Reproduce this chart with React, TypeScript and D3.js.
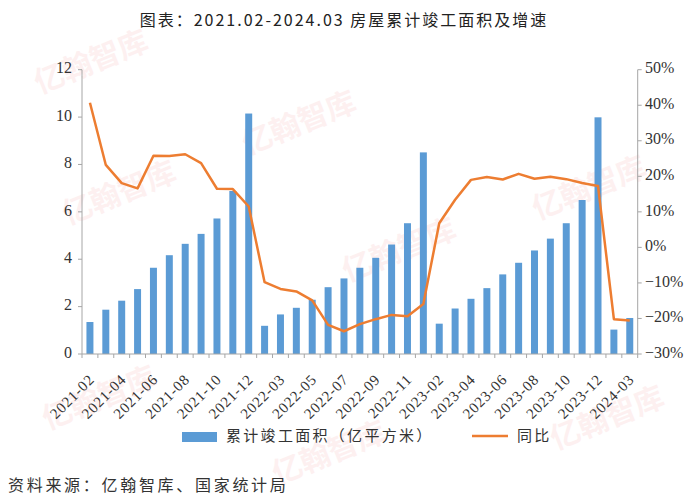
import React from "react";
import * as d3 from "d3";

const categories = [
  "2021-02","2021-03","2021-04","2021-05","2021-06","2021-07","2021-08","2021-09","2021-10","2021-11","2021-12",
  "2022-02","2022-03","2022-04","2022-05","2022-06","2022-07","2022-08","2022-09","2022-10","2022-11","2022-12",
  "2023-02","2023-03","2023-04","2023-05","2023-06","2023-07","2023-08","2023-09","2023-10","2023-11","2023-12",
  "2024-02","2024-03",
];
const area = [
  1.35,1.87,2.25,2.74,3.64,4.17,4.65,5.07,5.72,6.88,10.15,
  1.19,1.67,1.95,2.29,2.82,3.19,3.64,4.06,4.62,5.52,8.51,
  1.28,1.92,2.33,2.78,3.36,3.85,4.37,4.87,5.52,6.5,9.99,
  1.03,1.52,
];
const yoy = [
  40.7,23.2,18.1,16.6,25.8,25.7,26.2,23.7,16.5,16.4,11.5,
  -9.8,-11.7,-12.4,-14.9,-21.8,-23.6,-21.6,-20.2,-19.0,-19.4,-15.9,
  6.8,13.4,19.0,19.8,19.1,20.7,19.3,19.9,19.2,18.1,17.3,
  -20.2,-20.6,
];
const leftTicks = [0, 2, 4, 6, 8, 10, 12];
const rightTicks = [-30, -20, -10, 0, 10, 20, 30, 40, 50];
const title = "图表：2021.02-2024.03 房屋累计竣工面积及增速";
const legendBar = "累计竣工面积（亿平方米）";
const legendLine = "同比";
const source = "资料来源：亿翰智库、国家统计局";
const watermark = "亿翰智库";
const watermarkSpots = [
  [92, 64], [300, 125], [590, 190], [120, 195], [400, 252], [100, 400], [330, 455], [608, 420],
];

export default function App() {
  const W = 700, H = 503;
  const left = 82, right = 637.7, top = 69.7, bottom = 354;
  const x = d3.scaleBand<string>().domain(categories).range([left, right]).paddingInner(0).paddingOuter(0);
  const yL = d3.scaleLinear().domain([0, 12]).range([bottom, top]);
  const yR = d3.scaleLinear().domain([-30, 50]).range([bottom, top]);
  const bw = x.bandwidth() * 0.44;
  const cx = (c: string) => (x(c) as number) + x.bandwidth() / 2;
  const line = d3.line<number>().x((_, i) => cx(categories[i])).y((d) => yR(d));
  const axisColor = "#a6a6a6";
  const serif = "'Liberation Serif', 'Times New Roman', serif";
  const cjk = "'Noto Sans CJK SC', sans-serif";
  const ticksX = categories.map((c) => x(c) as number).concat([right]);

  return (
    <svg width={W} height={H} style={{ position: "absolute", left: 0, top: 0, background: "#fff" }}>
      <rect x={0} y={0} width={W} height={H} fill="#fff" />
      {watermarkSpots.map(([wx, wy], i) => (
        <text key={"wm" + i} x={wx} y={wy} transform={`rotate(-22 ${wx} ${wy})`} textAnchor="middle"
          dominantBaseline="middle" fontFamily={cjk} fontWeight={700} fontSize={30} fill="#e8383d" opacity={0.07}>
          {watermark}
        </text>
      ))}
      <text x={344} y={22} textAnchor="middle" dominantBaseline="middle" fontFamily={cjk} fontSize={16}
        letterSpacing={2} fill="#222">
        {title}
      </text>
      {categories.map((c, i) => (
        <rect key={c} x={cx(c) - bw / 2} y={yL(area[i])} width={bw} height={bottom - yL(area[i])} fill="#5b9bd5" />
      ))}
      <path d={line(yoy) || ""} fill="none" stroke="#ed7d31" strokeWidth={2.5} strokeLinejoin="round" />
      <line x1={left} x2={left} y1={top} y2={bottom} stroke={axisColor} />
      {leftTicks.map((t) => (
        <g key={"l" + t}>
          <line x1={left - 4} x2={left} y1={yL(t)} y2={yL(t)} stroke={axisColor} />
          <text x={72} y={yL(t)} textAnchor="end" dominantBaseline="middle" fontFamily={serif} fontSize={16} fill="#333">
            {t}
          </text>
        </g>
      ))}
      <line x1={right} x2={right} y1={top} y2={bottom} stroke={axisColor} />
      {rightTicks.map((t) => (
        <g key={"r" + t}>
          <line x1={right} x2={right + 4} y1={yR(t)} y2={yR(t)} stroke={axisColor} />
          <text x={645} y={yR(t)} textAnchor="start" dominantBaseline="middle" fontFamily={serif} fontSize={16} fill="#333">
            {t < 0 ? "−" + Math.abs(t) + "%" : t + "%"}
          </text>
        </g>
      ))}
      <line x1={left} x2={right} y1={bottom} y2={bottom} stroke={axisColor} />
      {ticksX.map((tx, i) => (
        <line key={"xt" + i} x1={tx} x2={tx} y1={bottom} y2={bottom + 4} stroke={axisColor} />
      ))}
      {categories.map((c, i) =>
        i % 2 === 0 ? (
          <text key={"xl" + c} x={cx(c) + 3} y={bottom + 24} textAnchor="end" dominantBaseline="middle"
            transform={`rotate(-45 ${cx(c) + 3} ${bottom + 24})`} fontFamily={serif} fontSize={15}
            letterSpacing={0.8} fill="#333">
            {c}
          </text>
        ) : null
      )}
      <rect x={182} y={432} width={35} height={10} fill="#5b9bd5" />
      <text x={226} y={437} dominantBaseline="middle" fontFamily={cjk} fontSize={15} letterSpacing={2.3} fill="#333">{legendBar}</text>
      <line x1={472} x2={508} y1={436} y2={436} stroke="#ed7d31" strokeWidth={2.5} />
      <text x={517} y={437} dominantBaseline="middle" fontFamily={cjk} fontSize={15} letterSpacing={2.3} fill="#333">{legendLine}</text>
      <text x={8} y={487} dominantBaseline="middle" fontFamily={cjk} fontSize={16} letterSpacing={2.7} fill="#333">{source}</text>
    </svg>
  );
}
